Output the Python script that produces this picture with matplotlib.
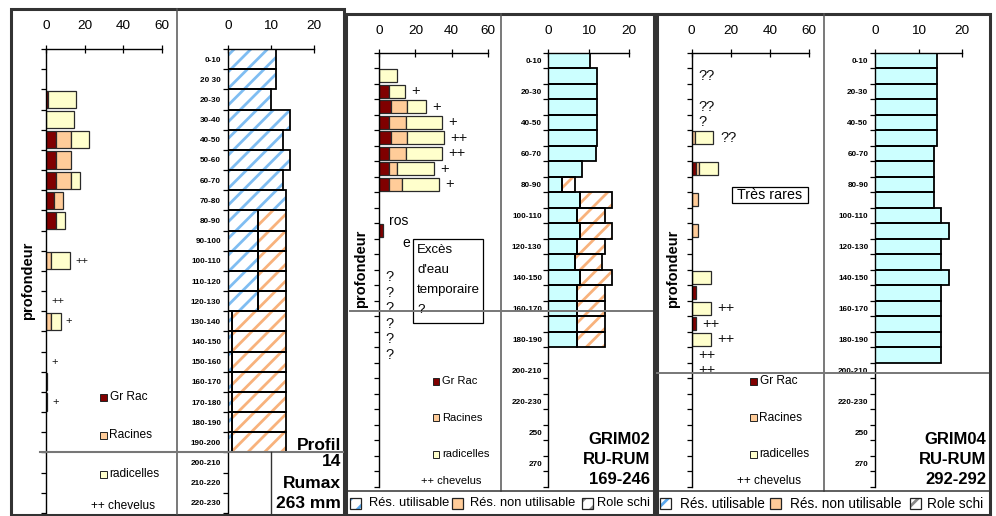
import numpy as np
import matplotlib
matplotlib.use("Agg")
import matplotlib.pyplot as plt
from matplotlib.patches import Rectangle

plt.rcParams['font.family'] = ['Liberation Sans', 'DejaVu Sans']
plt.rcParams['hatch.linewidth'] = 2.0

# ---------------- data ----------------
series_names = ['Gr Rac', 'Racines', 'radicelles']
legend_names = ['Rés. utilisable', 'Rés. non utilisable', 'Role schi']

# Panel 1 : Profil 14
depth1 = ['0-10', '20 30', '20-30', '30-40', '40-50', '50-60', '60-70', '70-80',
          '80-90', '90-100', '100-110', '110-120', '120-130', '130-140', '140-150',
          '150-160', '160-170', '170-180', '180-190', '190-200', '200-210',
          '210-220', '220-230']
gr1 = [0, 0, 1.0, 0, 5, 5, 5, 4, 5, 0, 0, 0, 0, 0, 0, 0, 0.6, 0.6, 0, 0, 0, 0, 0]
rac1 = [0, 0, 0, 0, 7.7, 7.7, 7.7, 4.6, 0, 0, 2.4, 0, 0, 2.4, 0, 0, 0, 0, 0, 0, 0, 0, 0]
rad1 = [0, 0, 14.5, 14.3, 9.6, 0, 5.0, 0, 4.8, 0, 10.1, 0, 0, 5.1, 0, 0, 0, 0, 0, 0, 0, 0, 0]
chev1 = [''] * 10 + ['++', '', '++', '+', '', '+', '', '+'] + [''] * 5
ru1 = [11.2, 11.2, 9.9, 14.4, 12.9, 14.4, 12.9, 13.6] + [6.9] * 5 + [1.0] * 7 + [0] * 3
rnu1 = [0] * 8 + [6.5] * 5 + [12.4] * 7 + [0] * 3

# Panel 2 : GRIM02
depth2 = ['0-10', '10-20', '20-30', '30-40', '40-50', '50-60', '60-70', '70-80',
          '80-90', '90-100', '100-110', '110-120', '120-130', '130-140', '140-150',
          '150-160', '160-170', '170-180', '180-190', '190-200', '200-210',
          '210-220', '220-230', '230-240', '250', '260', '270', '280']
gr2 = [0, 0, 5.4, 6.3, 5.4, 6.3, 5.4, 5.4, 5.4, 0, 0, 1.8] + [0] * 16
rac2 = [0, 0, 0, 9.2, 9.2, 9.2, 9.2, 4.6, 7.3] + [0] * 19
rad2 = [0, 9.6, 9.0, 10.3, 19.9, 20.1, 19.9, 20.1, 20.2] + [0] * 19
chev2 = ['', '', '+', '+', '+', '++', '++', '+', '+'] + [''] * 5 + ['?'] * 6 + [''] * 8
ru2 = [10.4, 12.2, 12.2, 12.2, 12.2, 12.2, 11.8, 8.5, 3.3, 8.0, 7.2, 8.0, 7.2, 6.6,
       8.0, 7.2, 7.2, 7.2, 7.2] + [0] * 9
rnu2 = [0] * 8 + [3.4, 7.9, 6.9, 7.9, 6.9, 6.7, 7.9, 6.9, 6.9, 6.9, 6.9] + [0] * 9

# Panel 3 : GRIM04
depth3 = depth2
gr3 = [0] * 7 + [2.0] + [0] * 7 + [2.0, 0, 2.0] + [0] * 10
rac3 = [0, 0, 0, 0, 0, 1.7, 0, 1.7, 0, 3.4, 0, 3.4] + [0] * 16
rad3 = [0, 0, 0, 0, 0, 9.4, 0, 9.9] + [0] * 6 + [9.7, 0, 9.7, 0, 9.7] + [0] * 9
chev3 = ['', '??', '', '??', '?', '??'] + [''] * 10 + ['++'] * 5 + [''] * 7
ru3 = [14.1] * 6 + [13.5] * 4 + [15.1, 16.9, 15.1, 15.1, 16.9] + [15.1] * 5 + [0] * 8
rnu3 = [0] * 28

left_ticks = [0, 20, 40, 60]
right_ticks = [0, 10, 20]

# ---------------- style ----------------
C_GR, C_RAC, C_RAD = '#800000', '#ffcc99', '#ffffcc'
C_BLUE_H, C_ORANGE_H, C_CYAN = '#7fbdf2', '#f8b27c', '#ccffff'

W, H = 996, 516
fig = plt.figure(figsize=(W / 100, H / 100), dpi=100)


def pax(x0, y0, x1, y1):
    return fig.add_axes([x0 / W, 1 - y1 / H, (x1 - x0) / W, (y1 - y0) / H])


def left_chart(box, gr, rac, rad, chev, off, chev_fs, pad):
    ax = pax(*box)
    gr = np.asarray(gr, float)
    rac = np.asarray(rac, float)
    rad = np.asarray(rad, float)
    n = len(gr)
    y = np.arange(n)
    for w, l, c in [(gr, np.zeros(n), C_GR), (rac, gr, C_RAC), (rad, gr + rac, C_RAD)]:
        m = w > 0
        ax.barh(y[m], w[m], left=l[m], height=0.85, color=c,
                edgecolor='#2a2a2a', linewidth=0.9, zorder=2)
    tot = gr + rac + rad
    for i, s in enumerate(chev):
        if s:
            ax.text(tot[i] + off, i, s, ha='left', va='center', fontsize=chev_fs,
                    color='#111111', clip_on=False)
    ax.set_xlim(0, 60)
    ax.set_ylim(n - 0.5, -0.5)
    for s in ['right', 'bottom']:
        ax.spines[s].set_visible(False)
    for s in ['left', 'top']:
        ax.spines[s].set_linewidth(1.0)
    ax.xaxis.tick_top()
    ax.set_xticks(left_ticks)
    ax.tick_params(axis='x', direction='inout', length=6, width=0.9, pad=pad,
                   labelsize=9.7)
    ax.set_yticks(np.arange(n + 1) - 0.5)
    ax.set_yticklabels([])
    ax.tick_params(axis='y', direction='out', length=3.5, width=0.9)
    ax.patch.set_alpha(0)
    return ax


def right_chart(box, ru, rnu, labels, ru_hatched, step, pad, lpad):
    ax = pax(*box)
    ru = np.asarray(ru, float)
    rnu = np.asarray(rnu, float)
    n = len(ru)
    y = np.arange(n)
    m = ru > 0
    if ru_hatched:
        ax.barh(y[m], ru[m], height=1.0, facecolor='white', edgecolor=C_BLUE_H,
                hatch='//', linewidth=0, zorder=2)
    else:
        ax.barh(y[m], ru[m], height=1.0, facecolor=C_CYAN, linewidth=0, zorder=2)
    ax.barh(y[m], ru[m], height=1.0, fill=False, edgecolor='black', linewidth=1.3, zorder=3)
    m2 = rnu > 0
    ax.barh(y[m2], rnu[m2], left=ru[m2], height=1.0, facecolor='white',
            edgecolor=C_ORANGE_H, hatch='//', linewidth=0, zorder=2)
    ax.barh(y[m2], rnu[m2], left=ru[m2], height=1.0, fill=False, edgecolor='black',
            linewidth=1.3, zorder=3)
    ax.set_xlim(0, 20)
    ax.set_ylim(n - 0.5, -0.5)
    for s in ['right', 'bottom']:
        ax.spines[s].set_visible(False)
    for s in ['left', 'top']:
        ax.spines[s].set_linewidth(1.0)
    ax.xaxis.tick_top()
    ax.set_xticks(right_ticks)
    ax.tick_params(axis='x', direction='inout', length=6, width=0.9, pad=pad,
                   labelsize=9.7)
    ax.set_yticks(np.arange(n + 1) - 0.5)
    ax.set_yticklabels([])
    ax.tick_params(axis='y', which='major', direction='out', length=3.5, width=0.9)
    ax.set_yticks(y, [lab if i % step == 0 else '' for i, lab in enumerate(labels)],
                  minor=True)
    ax.tick_params(axis='y', which='minor', length=0, pad=lpad, labelsize=5.9)
    for t in ax.get_yticklabels(minor=True):
        t.set_fontweight('bold')
    ax.patch.set_alpha(0)
    return ax


# ---------------- charts ----------------
left_chart((46, 49, 162, 513), gr1, rac1, rad1, chev1, 2.6, 8, 9.5)
right_chart((228, 49, 314, 513), ru1, rnu1, depth1, True, 1, 9.5, 5)

left_chart((379.3, 52.5, 487.7, 486.5), gr2, rac2, rad2, chev2, 3.4, 10.5, 8)
right_chart((548.3, 52.5, 628.7, 486.5), ru2, rnu2, depth2, False, 2, 8, 4.5)

left_chart((691.7, 52.5, 809, 486.5), gr3, rac3, rad3, chev3, 3.4, 10.5, 8.5)
right_chart((875.3, 52.5, 962.3, 486.5), ru3, rnu3, depth3, False, 2, 8.5, 5)

# ---------------- overlay (frames, texts) ----------------
ov = pax(0, 0, W, H)
ov.set_xlim(0, W)
ov.set_ylim(H, 0)
ov.axis('off')
ov.set_zorder(10)

FR = '#333333'
for (x0, y0, x1, y1) in [(11, 8.5, 343.5, 514.5), (346, 13.5, 654, 514.5), (656.5, 13.5, 989.5, 514.5)]:
    ov.add_patch(Rectangle((x0, y0), x1 - x0, y1 - y0, fill=False, lw=2.2, ec=FR))
# dividers
ov.plot([177, 177], [9, 514], color='#555555', lw=1.1)
ov.plot([501, 501], [14, 491], color='#555555', lw=1.1)
ov.plot([823.5, 823.5], [14, 491], color='#555555', lw=1.1)
ov.plot([346, 654], [491, 491], color=FR, lw=1.1)
ov.plot([656, 989], [491, 491], color=FR, lw=1.1)
# horizontal grey lines
ov.plot([40, 343], [452, 452], color='#777777', lw=1.5)
ov.plot([350, 652], [311, 311], color='#777777', lw=1.4)
ov.plot([657, 988], [373, 373], color='#777777', lw=1.4)
ov.plot([271, 271], [452, 514], color='#333333', lw=1.0)

# y labels
for (x, y) in [(28, 281), (361, 268.5), (673, 268.5)]:
    ov.text(x, y, 'profondeur', rotation=90, ha='center', va='center',
            fontsize=10.5, fontweight='bold')

# series legends in left charts
cols = [C_GR, C_RAC, C_RAD]
for (sx, ys, chx, chy, fs) in [(100, [397, 435, 474], 91, 506, 8.6),
                               (432.5, [381, 417.7, 454], 421, 480.7, 8.0),
                               (750, [381, 417.7, 454], 737, 480.7, 8.6)]:
    for name, c, yy in zip(series_names, cols, ys):
        ov.add_patch(Rectangle((sx, yy - 3.5), 6.5, 7, fc=c, ec='#222222', lw=0.7))
        ov.text(sx + 9.5, yy, name, ha='left', va='center', fontsize=fs)
    ov.text(chx, chy, '++ chevelus', ha='left', va='center', fontsize=fs)

# panel titles
for (x, y, s) in [(341, 445, 'Profil'), (341, 462, '14'), (341, 483, 'Rumax'),
                  (341, 504, '263 mm')]:
    ov.text(x, y, s, ha='right', va='center', fontsize=12.5, fontweight='bold')
for (x, lines) in [(650, ['GRIM02', 'RU-RUM', '169-246']),
                   (986, ['GRIM04', 'RU-RUM', '292-292'])]:
    for yy, s in zip([440, 459.5, 479], lines):
        ov.text(x, yy, s, ha='right', va='center', fontsize=12, fontweight='bold')

# annotations
ov.text(389, 221, 'ros', ha='left', va='center', fontsize=10)
ov.text(402, 243, 'e', ha='left', va='center', fontsize=10)
ov.add_patch(Rectangle((413, 239), 70, 84, fc='white', ec='black', lw=0.9))
for yy, s in zip([250, 270, 290, 310], ['Excès', "d'eau", 'temporaire', '?']):
    ov.text(417, yy, s, ha='left', va='center', fontsize=9.5)
ov.add_patch(Rectangle((731.7, 186.7), 76.6, 16.6, fc='white', ec='black', lw=0.9))
ov.text(770, 195, 'Très rares', ha='center', va='center', fontsize=10.3)

# bottom legend strips (clipped at panel border)
for (x0, x1, px, tx, fs) in [(348, 652, [350, 452, 582], [369, 470, 597], 9.3),
                             (658, 988, [660, 770, 910], [680, 790, 927], 9.8)]:
    lg = pax(x0, 492, x1, 514)
    lg.set_xlim(x0, x1)
    lg.set_ylim(514, 492)
    lg.axis('off')
    lg.set_zorder(11)
    styles = [dict(fc='white', ec='#5aa8ee', hatch='//'),
              dict(fc=C_RAC, ec=C_RAC),
              dict(fc='white', ec='#8a8a8a', hatch='//')]
    for p, t, st, name in zip(px, tx, styles, legend_names):
        lg.add_patch(Rectangle((p, 498), 10.5, 11, lw=0, **st))
        lg.add_patch(Rectangle((p, 498), 10.5, 11, fill=False, ec='#222222', lw=0.9))
        lg.text(t, 503.5, name, ha='left', va='center', fontsize=fs, clip_on=True)

fig.savefig('out.png', dpi=100)
